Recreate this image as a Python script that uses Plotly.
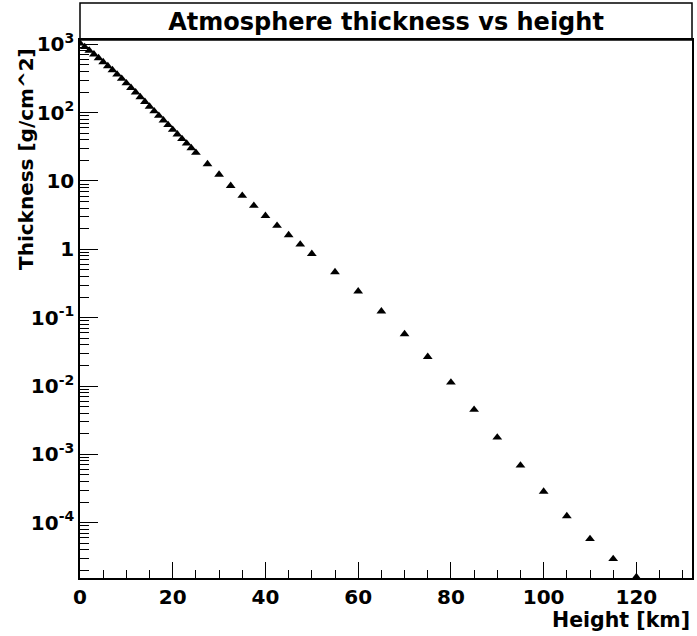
import plotly.graph_objects as go

# Data
height_km = [0, 1, 2, 3, 4, 5, 6, 7, 8, 9, 10, 11, 12, 13, 14, 15, 16, 17, 18, 19, 20,
             21, 22, 23, 24, 25, 27.5, 30, 32.5, 35, 37.5, 40, 42.5, 45, 47.5, 50,
             55, 60, 65, 70, 75, 80, 85, 90, 95, 100, 105, 110, 115, 120]
thickness = [1033, 916, 811, 715, 629, 551, 481, 419, 363, 314, 270, 231, 198, 169, 144,
             123, 105, 90.2, 77.1, 66.0, 56.4, 48.2, 41.3, 35.4, 30.3, 26.0,
             17.7, 12.4, 8.5, 6.1, 4.35, 3.1, 2.22, 1.62, 1.18, 0.86,
             0.466, 0.243, 0.124, 0.0575, 0.0268, 0.0113, 0.0045, 0.00177, 6.9e-4,
             2.86e-4, 1.25e-4, 5.8e-5, 2.95e-5, 1.6e-5]

x_tick_vals = [0, 20, 40, 60, 80, 100, 120]
x_tick_text = ["0", "20", "40", "60", "80", "100", "120"]
y_tick_vals = [1e-4, 1e-3, 1e-2, 1e-1, 1, 10, 100, 1000]
y_tick_text = ["10<sup>-4</sup>", "10<sup>-3</sup>", "10<sup>-2</sup>", "10<sup>-1</sup>",
               "1", "10", "10<sup>2</sup>", "10<sup>3</sup>"]
y_minor_vals = [m * 10.0 ** e for e in range(-5, 4) for m in range(2, 10)]

FONT = "DejaVu Sans"
W, H = 697, 636
ML, MR, MT, MB = 80, 3, 40, 58
plot_h = H - MT - MB

fig = go.Figure()
fig.add_trace(go.Scatter(
    x=height_km, y=thickness, mode="markers",
    marker=dict(symbol="triangle-up", size=8.5, color="black"),
    cliponaxis=True, showlegend=False,
))

axis_common = dict(
    showgrid=False, zeroline=False, showline=True, linecolor="black", linewidth=1.5,
    mirror=True, ticks="inside", tickcolor="black",
    tickfont=dict(family=FONT, size=20, color="black", weight="bold"),
)

fig.update_xaxes(
    range=[0, 132], tickmode="array", tickvals=x_tick_vals, ticktext=x_tick_text,
    ticklen=16, tickwidth=1,
    minor=dict(ticks="inside", dtick=5, tick0=0, ticklen=8, tickcolor="black", tickwidth=1),
    **axis_common,
)
fig.update_yaxes(
    type="log", range=[-4.809, 3.063], tickmode="array", tickvals=y_tick_vals,
    ticktext=y_tick_text, ticklen=18, tickwidth=1,
    minor=dict(ticks="inside", tickmode="array", tickvals=y_minor_vals, ticklen=9,
               tickcolor="black", tickwidth=1),
    **axis_common,
)

# Title box
fig.add_shape(type="rect", xref="paper", yref="paper", x0=0, x1=1, y0=1,
              y1=1 + 37 / plot_h, line=dict(color="black", width=1.5),
              fillcolor="white", layer="below")

fig.add_annotation(text="Height [km]", xref="paper", yref="paper", x=1, y=0,
                   xanchor="right", yanchor="middle", yshift=-42, showarrow=False,
                   font=dict(family=FONT, size=20.5, color="black", weight="bold"))
fig.add_annotation(text="Thickness [g/cm^2]", xref="paper", yref="paper", x=0, y=1,
                   xanchor="center", yanchor="top", xshift=-54, yshift=-6, textangle=-90,
                   showarrow=False,
                   font=dict(family=FONT, size=20, color="black", weight="bold"))

fig.update_layout(
    width=W, height=H,
    margin=dict(l=ML, r=MR, t=MT, b=MB, pad=0),
    paper_bgcolor="white", plot_bgcolor="white",
    title=dict(text="Atmosphere thickness vs height", x=0.5, xref="paper",
               xanchor="center", y=1 - 21.5 / H, yanchor="middle",
               font=dict(family=FONT, size=24, color="black", weight="bold")),
)

fig.write_html("out.html")
